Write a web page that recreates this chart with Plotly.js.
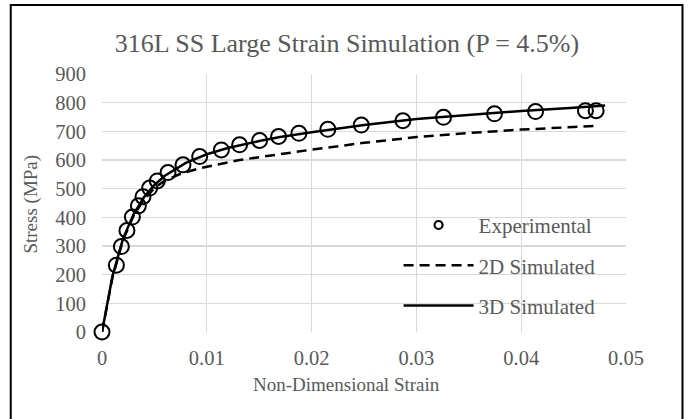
<!DOCTYPE html>
<html>
<head>
<meta charset="utf-8">
<script src="https://cdn.plot.ly/plotly-3.0.1.min.js"></script>
<style>
html,body{margin:0;padding:0;background:#fff;}
#chart{width:690px;height:419px;}
</style>
</head>
<body>
<div id="chart"></div>
<script>
// Experimental data (strain, stress MPa)
var expStrain = [0, 0.00137, 0.00185, 0.00238, 0.0029, 0.00347, 0.00391, 0.00455, 0.00528, 0.0063, 0.00773, 0.00932, 0.01139, 0.01313, 0.01504, 0.01685, 0.01879, 0.02155, 0.02474, 0.02871, 0.03259, 0.03745, 0.04137, 0.04613, 0.04715];
var expStress = [0, 233, 298, 354, 401, 440, 472, 502, 527, 556, 583, 612, 635, 653, 668, 682, 693, 707, 722, 737, 749, 761, 769, 772, 772];

// 2D simulated
var sim2dStrain = [0, 0.001, 0.002, 0.003, 0.004, 0.005, 0.006, 0.0075, 0.0093, 0.011, 0.013, 0.015, 0.017, 0.02, 0.025, 0.03, 0.035, 0.04, 0.045, 0.047];
var sim2dStress = [0, 190, 320, 405, 462, 502, 528, 552, 571, 585, 599, 610, 621, 636, 660, 680, 694, 706, 715, 719];

// 3D simulated
var sim3dStrain = [0, 0.001, 0.002, 0.003, 0.004, 0.005, 0.006, 0.008, 0.01, 0.012, 0.015, 0.017, 0.02, 0.025, 0.03, 0.035, 0.04, 0.045, 0.048];
var sim3dStress = [0, 195, 325, 410, 470, 513, 545, 590, 620, 642, 666, 680, 697, 722, 743, 758, 771, 782, 790];

var xTicks = [0, 0.01, 0.02, 0.03, 0.04, 0.05];
var xTickText = ['0', '0.01', '0.02', '0.03', '0.04', '0.05'];
var yTicks = [0, 100, 200, 300, 400, 500, 600, 700, 800, 900];

var chartTitle = '316L SS Large Strain Simulation (P = 4.5%)';
var xTitle = 'Non-Dimensional Strain';
var yTitle = 'Stress (MPa)';

var txt = '#595959';
var fam = '"Liberation Serif", "Times New Roman", serif';

var traces = [
  { // legend entry for experimental (small symbol as in reference)
    x: [null], y: [null], mode: 'markers', name: 'Experimental',
    legendgroup: 'a', showlegend: true, hoverinfo: 'skip',
    marker: {symbol: 'circle-open', size: 8, color: '#000', line: {width: 2.2, color: '#000'}}
  },
  {
    x: expStrain, y: expStress, mode: 'markers', name: 'Experimental',
    legendgroup: 'a', showlegend: false, cliponaxis: false,
    marker: {symbol: 'circle-open', size: 15, color: '#000', line: {width: 2, color: '#000'}}
  },
  {
    x: sim2dStrain, y: sim2dStress, mode: 'lines', name: '2D Simulated',
    legendgroup: 'b', cliponaxis: false,
    line: {color: '#000', width: 2.5, dash: '10px,6px'}
  },
  {
    x: sim3dStrain, y: sim3dStress, mode: 'lines', name: '3D Simulated',
    legendgroup: 'c', cliponaxis: false,
    line: {color: '#000', width: 2.5}
  }
];

var L = 102.3, R = 626.5, T = 74, B = 332.3;
var W = R - L, H = B - T;
function px(x){ return (x - L) / W; }
function py(y){ return (B - y) / H; }

var layout = {
  width: 690, height: 419,
  margin: {l: L, r: 690 - R, t: T, b: 419 - B, pad: 0},
  paper_bgcolor: '#fff', plot_bgcolor: '#fff',
  font: {family: fam, color: txt, size: 20},
  title: {text: chartTitle, font: {family: fam, size: 26, color: txt},
          x: 347/690, xref: 'container', xanchor: 'center', y: 1 - 43/419, yanchor: 'middle', yref: 'container'},
  showlegend: true,
  legend: {
    x: px(399), y: py(205), xanchor: 'left', yanchor: 'top',
    bgcolor: 'rgba(0,0,0,0)', borderwidth: 0,
    font: {family: fam, size: 21, color: txt},
    tracegroupgap: 10, itemwidth: 70
  },
  xaxis: {
    range: [0, 0.05], tickvals: xTicks, ticktext: xTickText,
    showgrid: true, gridcolor: '#d9d9d9', gridwidth: 1.3,
    zeroline: false, showline: false, ticks: '',
    tickfont: {family: fam, size: 20.5, color: txt},
    ticklabelstandoff: 11
  },
  yaxis: {
    range: [0, 900], tickvals: yTicks,
    showgrid: true, gridcolor: '#d9d9d9', gridwidth: 1.3,
    zeroline: false, showline: false, ticks: '',
    tickfont: {family: fam, size: 20.5, color: txt},
    ticklabelstandoff: 15
  },
  annotations: [
    {text: xTitle, xref: 'paper', yref: 'paper', x: px(347), y: py(385),
     xanchor: 'center', yanchor: 'middle', showarrow: false,
     font: {family: fam, size: 19, color: txt}},
    {text: yTitle, xref: 'paper', yref: 'paper', x: px(31), y: py(204), textangle: -90,
     xanchor: 'center', yanchor: 'middle', showarrow: false,
     font: {family: fam, size: 19, color: txt}}
  ],
  shapes: [
    {type: 'rect', xref: 'paper', yref: 'paper', x0: px(375), x1: px(620), y0: py(325), y1: py(205),
     line: {width: 0}, fillcolor: '#fff', layer: 'between'},
    {type: 'rect', xref: 'paper', yref: 'paper', x0: px(11), x1: px(683), y0: py(421), y1: py(5),
     line: {color: '#000', width: 2}, fillcolor: 'rgba(0,0,0,0)', layer: 'above'}
  ]
};

Plotly.newPlot('chart', traces, layout, {displayModeBar: false, staticPlot: true});
</script>
</body>
</html>
